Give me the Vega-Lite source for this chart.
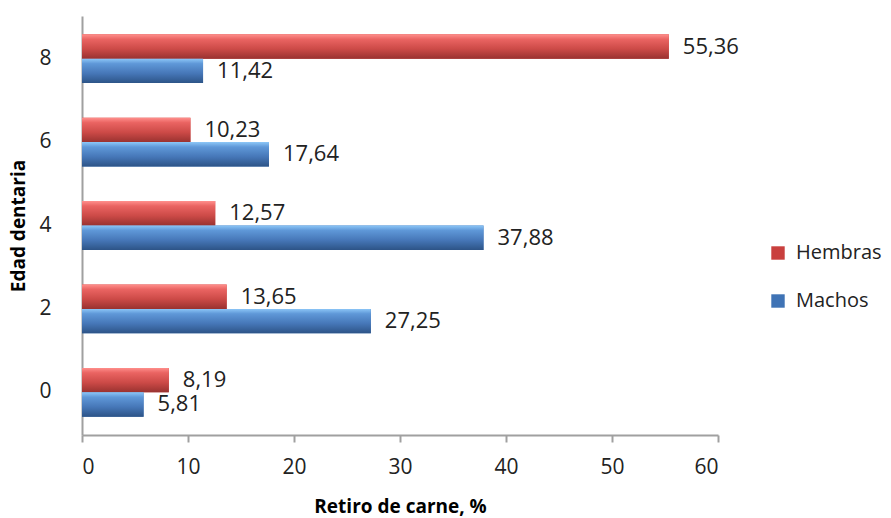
{
  "$schema": "https://vega.github.io/schema/vega-lite/v6.json",
  "autosize": {"type": "none"},
  "padding": {"left": 82, "top": 16, "right": 173, "bottom": 83},
  "width": 636,
  "height": 419,
  "background": "white",
  "config": {
    "view": {"stroke": null},
    "font": "Open Sans",
    "locale": {"number": {"decimal": ",", "thousands": ".", "grouping": [3], "currency": ["", " €"]}}
  },
  "data": {
    "values": [
      {"edad": 8, "serie": "Hembras", "valor": 55.36},
      {"edad": 8, "serie": "Machos", "valor": 11.42},
      {"edad": 6, "serie": "Hembras", "valor": 10.23},
      {"edad": 6, "serie": "Machos", "valor": 17.64},
      {"edad": 4, "serie": "Hembras", "valor": 12.57},
      {"edad": 4, "serie": "Machos", "valor": 37.88},
      {"edad": 2, "serie": "Hembras", "valor": 13.65},
      {"edad": 2, "serie": "Machos", "valor": 27.25},
      {"edad": 0, "serie": "Hembras", "valor": 8.19},
      {"edad": 0, "serie": "Machos", "valor": 5.81}
    ]
  },
  "encoding": {
    "y": {
      "field": "edad", "type": "ordinal", "sort": "descending",
      "scale": {"paddingInner": 0.415, "paddingOuter": 0.22},
      "axis": {
        "title": "Edad dentaria", "titleFontSize": 19, "titleFontWeight": "bold", "titleColor": "#000",
        "titlePadding": 10,
        "labelFontSize": 21, "labelColor": "#222", "labelPadding": 31,
        "ticks": false, "domainColor": "#a0a0a0", "domainWidth": 2, "grid": false
      }
    },
    "yOffset": {"field": "serie", "type": "nominal", "sort": ["Hembras", "Machos"], "scale": {"paddingInner": 0, "paddingOuter": 0}},
    "x": {
      "field": "valor", "type": "quantitative",
      "scale": {"domain": [0, 60], "nice": false},
      "axis": {
        "title": "Retiro de carne, %", "titleFontSize": 19, "titleFontWeight": "bold", "titleColor": "#000",
        "titlePadding": 20,
        "values": [0, 10, 20, 30, 40, 50, 60], "format": "d",
        "labelFontSize": 21, "labelColor": "#222", "labelPadding": 14,
        "tickSize": 7, "tickColor": "#a0a0a0", "tickWidth": 2,
        "domainColor": "#a0a0a0", "domainWidth": 2, "grid": false
      }
    }
  },
  "layer": [
    {
      "mark": {"type": "bar"},
      "encoding": {
        "color": {
          "field": "serie", "type": "nominal",
          "scale": {"domain": ["Hembras", "Machos"], "range": ["#c9403e", "#3f73b5"]},
          "legend": {
            "title": null, "orient": "none", "legendX": 686, "legendY": 227,
            "symbolType": "square", "symbolSize": 180, "symbolStrokeWidth": 0,
            "labelFontSize": 20, "labelColor": "#222", "labelOffset": 8, "rowPadding": 28
          }
        }
      }
    },
    {
      "mark": {"type": "bar"},
      "encoding": {
        "color": {
          "condition": {
            "test": "datum.serie === 'Hembras'",
            "value": {"gradient": "linear", "x1": 0, "y1": 0, "x2": 0, "y2": 1,
              "stops": [{"offset": 0, "color": "#ff8f8c"}, {"offset": 0.2, "color": "#ea6462"}, {"offset": 0.6, "color": "#cc4a47"}, {"offset": 1, "color": "#993230"}]}
          },
          "value": {"gradient": "linear", "x1": 0, "y1": 0, "x2": 0, "y2": 1,
            "stops": [{"offset": 0, "color": "#8cc6f7"}, {"offset": 0.2, "color": "#5f98d8"}, {"offset": 0.6, "color": "#4677b8"}, {"offset": 1, "color": "#2d5487"}]}
        }
      }
    },
    {
      "mark": {"type": "text", "align": "left", "baseline": "middle", "dx": 14, "fontSize": 22, "color": "#222"},
      "encoding": {
        "text": {"field": "valor", "type": "quantitative", "format": ".2f"}
      }
    }
  ]
}
